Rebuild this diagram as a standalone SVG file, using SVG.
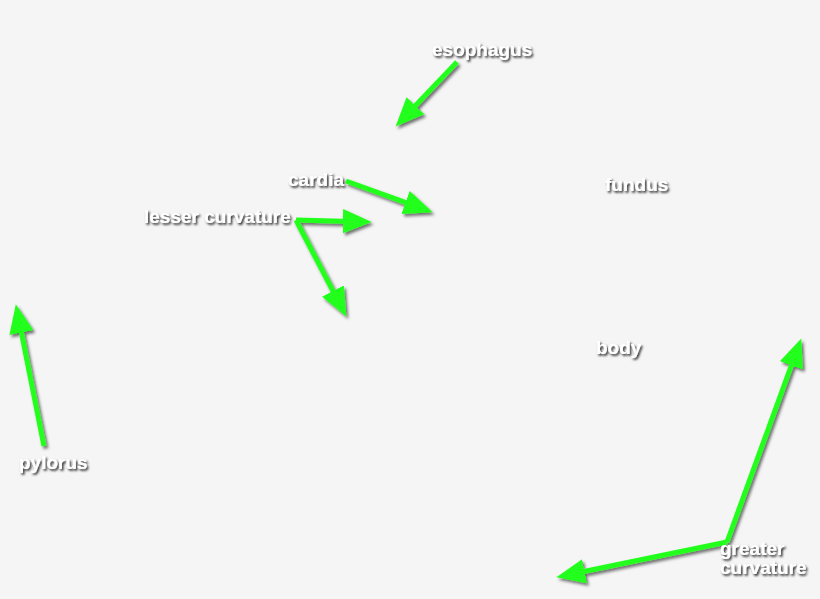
<svg xmlns="http://www.w3.org/2000/svg" width="820" height="599" viewBox="0 0 820 599">
<style>
.lbl{font-family:"Liberation Sans",Arial,sans-serif;font-weight:bold;font-size:19px;fill:#ffffff;filter:url(#tsh)}
.arr{fill:none;stroke:#22ff1a;stroke-width:5;stroke-linecap:butt;stroke-linejoin:miter;marker-end:url(#head)}
</style>
<defs>
<filter id="tsh" x="-20%" y="-40%" width="140%" height="190%">
<feDropShadow dx="1.5" dy="1.8" stdDeviation="1.1" flood-color="#000" flood-opacity="0.85"/>
</filter>
<filter id="ash" x="-20%" y="-20%" width="140%" height="140%">
<feDropShadow dx="2" dy="2.5" stdDeviation="1.6" flood-color="#000" flood-opacity="0.55"/>
</filter>
<marker id="head" markerUnits="userSpaceOnUse" markerWidth="32" markerHeight="28" viewBox="0 -13 30 26" refX="17" refY="0" orient="auto">
<path d="M0,-11.5 L27,0 L0,11.5 z" fill="#22ff1a"/>
</marker>
</defs>
<rect width="820" height="599" fill="#f5f5f5"/>
<g id="connectors" filter="url(#ash)">
<path class="arr" d="M457,62 L402.9,118.8"/>
<path class="arr" d="M346,181 L422.6,208.6"/>
<path class="arr" d="M296,220 L361,221.7"/>
<path class="arr" d="M296,220 L341.4,307.1"/>
<path class="arr" d="M44,446 L17.9,314.8"/>
<path class="arr" d="M727,542 L797.6,348.4"/>
<path class="arr" d="M727,542 L566.8,575"/>
</g>
<g id="esophagus"><text class="lbl" x="432" y="56">esophagus</text></g>
<g id="cardia"><text class="lbl" x="288" y="186">cardia</text></g>
<g id="lesser-curvature"><text class="lbl" x="144" y="223">lesser curvature</text></g>
<g id="fundus"><text class="lbl" x="605" y="191">fundus</text></g>
<g id="body"><text class="lbl" x="596" y="354">body</text></g>
<g id="pylorus"><text class="lbl" x="19" y="469">pylorus</text></g>
<g id="greater-curvature"><text class="lbl" x="720" y="555">greater</text><text class="lbl" x="720" y="574">curvature</text></g>
</svg>
